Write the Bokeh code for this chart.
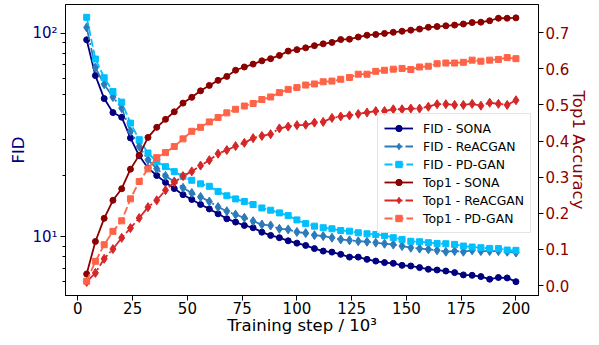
from bokeh.plotting import figure
from bokeh.models import (Range1d, LinearAxis, LinearScale, FixedTicker, PrintfTickFormatter,
                          Legend, LegendItem)
from bokeh.embed import file_html
from bokeh.resources import INLINE

steps = [4, 8, 12, 16, 20, 24, 28, 32, 36, 40,
         44, 48, 52, 56, 60, 64, 68, 72, 76, 80,
         84, 88, 92, 96, 100, 104, 108, 112, 116, 120,
         124, 128, 132, 136, 140, 144, 148, 152, 156, 160,
         164, 168, 172, 176, 180, 184, 188, 192, 196, 200]

fid_sona = [93, 62, 47.8, 40.8, 38.7, 30.6, 25.0, 21.8, 20.0, 18.5,
            17.25, 16.1, 15.24, 14.4, 13.7, 12.96, 12.25, 11.8, 11.36, 11.07,
            10.53, 10.15, 9.89, 9.55, 9.3, 9.06, 8.74, 8.5, 8.4, 8.19,
            7.94, 7.94, 7.74, 7.59, 7.46, 7.4, 7.23, 7.18, 7.05, 6.92,
            6.86, 6.78, 6.66, 6.49, 6.46, 6.37, 6.18, 6.3, 6.27, 6.01]

fid_reac = [107, 67.8, 56.2, 48.6, 42.9, 33.0, 27.8, 23.9, 21.6, 19.9,
            18.7, 17.4, 16.4, 15.7, 14.9, 14.0, 13.35, 12.85, 12.4, 11.93,
            11.48, 11.36, 10.94, 10.86, 10.55, 10.42, 10.18, 10.07, 9.89, 9.7,
            9.6, 9.5, 9.45, 9.35, 9.24, 9.15, 9.0, 8.83, 8.74, 8.67,
            8.57, 8.44, 8.5, 8.44, 8.57, 8.5, 8.5, 8.5, 8.44, 8.36]

fid_pd = [120, 74.8, 60.5, 51.8, 45.9, 36.2, 30.0, 25.8, 23.4, 22.1,
          20.9, 19.8, 18.95, 18.2, 17.7, 16.7, 15.9, 15.35, 14.9, 14.4,
          13.85, 13.5, 13.1, 12.7, 12.1, 11.6, 11.27, 11.07, 10.94, 10.73,
          10.65, 10.46, 10.34, 10.26, 10.15, 9.89, 9.7, 9.5, 9.45, 9.35,
          9.27, 9.24, 9.17, 9.0, 8.9, 8.83, 8.76, 8.74, 8.6, 8.57]

acc_sona = [0.032, 0.122, 0.186, 0.236, 0.268, 0.322, 0.361, 0.41, 0.438, 0.46,
            0.481, 0.505, 0.521, 0.539, 0.554, 0.568, 0.579, 0.596, 0.605, 0.613,
            0.622, 0.628, 0.637, 0.649, 0.653, 0.658, 0.664, 0.669, 0.673, 0.681,
            0.682, 0.688, 0.693, 0.695, 0.698, 0.701, 0.704, 0.707, 0.71, 0.715,
            0.717, 0.719, 0.721, 0.724, 0.728, 0.729, 0.733, 0.74, 0.74, 0.741]

acc_reac = [0.01, 0.035, 0.074, 0.101, 0.132, 0.159, 0.187, 0.217, 0.236, 0.264,
            0.286, 0.303, 0.316, 0.332, 0.347, 0.365, 0.375, 0.386, 0.395, 0.408,
            0.414, 0.419, 0.435, 0.44, 0.444, 0.445, 0.451, 0.453, 0.464, 0.468,
            0.471, 0.475, 0.479, 0.483, 0.483, 0.488, 0.488, 0.49, 0.49, 0.495,
            0.502, 0.502, 0.5, 0.5, 0.503, 0.498, 0.506, 0.503, 0.5, 0.513]

acc_pd = [0.012, 0.067, 0.113, 0.15, 0.179, 0.24, 0.288, 0.323, 0.354, 0.368,
          0.385, 0.406, 0.427, 0.438, 0.453, 0.465, 0.478, 0.488, 0.497, 0.504,
          0.515, 0.522, 0.534, 0.543, 0.548, 0.555, 0.558, 0.564, 0.566, 0.571,
          0.576, 0.585, 0.585, 0.593, 0.596, 0.599, 0.601, 0.598, 0.605, 0.607,
          0.614, 0.616, 0.616, 0.618, 0.624, 0.621, 0.624, 0.626, 0.631, 0.628]

x_ticks = [0, 25, 50, 75, 100, 125, 150, 175, 200]
fid_ticks = [10, 100]
fid_minor = [6, 7, 8, 9, 20, 30, 40, 50, 60, 70, 80, 90]
fid_labels = {10: "10\u00b9", 100: "10\u00b2"}
acc_ticks = [0.0, 0.1, 0.2, 0.3, 0.4, 0.5, 0.6, 0.7]

FONT = "DejaVu Sans"
FID_C = "navy"
ACC_C = "darkred"

p = figure(width=591, height=337, output_backend="svg", toolbar_location=None,
           title=None, y_axis_type="log",
           x_range=Range1d(-5.66, 210.3), y_range=Range1d(5.14, 138.7),
           min_border_left=65, min_border_right=10, min_border_top=4,
           min_border_bottom=0)
p.extra_y_ranges = {"acc": Range1d(-0.0276, 0.778)}
p.extra_y_scales = {"acc": LinearScale()}
p.grid.visible = False
p.outline_line_color = "black"
p.outline_line_width = 1
p.background_fill_color = "white"
p.border_fill_color = "white"

# bottom axis
xa = p.xaxis[0]
xa.ticker = FixedTicker(ticks=x_ticks)
xa.axis_label = "Training step / 10\u00b3"
xa.axis_label_text_font = FONT
xa.axis_label_text_font_style = "normal"
xa.axis_label_text_font_size = "16.5px"
xa.axis_label_text_color = "black"
xa.axis_label_standoff = -1
xa.major_label_text_font = FONT
xa.major_label_text_font_size = "15px"
xa.major_label_text_color = "black"
xa.major_label_standoff = 1
xa.major_tick_out = 5
xa.major_tick_in = 0
xa.minor_tick_out = 0
xa.minor_tick_in = 0
xa.axis_line_color = "black"

# left axis (FID, log)
ya = p.yaxis[0]
ya.ticker = FixedTicker(ticks=fid_ticks, minor_ticks=fid_minor)
ya.major_label_overrides = fid_labels
ya.axis_label = "FID"
ya.axis_label_text_font = FONT
ya.axis_label_text_font_style = "normal"
ya.axis_label_text_font_size = "16.5px"
ya.axis_label_text_color = FID_C
ya.axis_label_standoff = 1
ya.major_label_text_font = FONT
ya.major_label_text_font_size = "15px"
ya.major_label_text_color = FID_C
ya.major_label_standoff = 3
ya.major_tick_out = 5
ya.major_tick_in = 0
ya.minor_tick_out = 3
ya.minor_tick_in = 0
ya.axis_line_color = "black"

# right axis (Top1)
ra = LinearAxis(y_range_name="acc", ticker=FixedTicker(ticks=acc_ticks),
                formatter=PrintfTickFormatter(format="%.1f"))
ra.axis_label = "Top1 Accuracy"
ra.axis_label_text_font = FONT
ra.axis_label_text_font_style = "normal"
ra.axis_label_text_font_size = "16.5px"
ra.axis_label_text_color = ACC_C
ra.axis_label_standoff = -3
ra.major_label_text_font = FONT
ra.major_label_text_font_size = "15px"
ra.major_label_text_color = ACC_C
ra.major_label_standoff = 2
ra.major_tick_out = 5
ra.major_tick_in = 0
ra.minor_tick_out = 0
ra.minor_tick_in = 0
ra.axis_line_color = "black"
p.add_layout(ra, "right")

LW = 1.8
series = [
    ("FID - SONA", fid_sona, "default", "navy", "solid", "circle", 6),
    ("FID - ReACGAN", fid_reac, "default", "#2b7bba", "13 3 2 3", "diamond", 9),
    ("FID - PD-GAN", fid_pd, "default", "#00bfff", "8 3", "square", 6),
    ("Top1 - SONA", acc_sona, "acc", "darkred", "solid", "circle", 6),
    ("Top1 - ReACGAN", acc_reac, "acc", "#d62728", "13 3 2 3", "diamond", 9),
    ("Top1 - PD-GAN", acc_pd, "acc", "#ff6347", "8 3", "square", 6),
]

items = []
for name, ys, rng, col, dash, marker, size in series:
    kw = {} if rng == "default" else {"y_range_name": rng}
    l = p.line(steps, ys, line_color=col, line_width=LW, line_dash=dash, **kw)
    s = p.scatter(steps, ys, marker=marker, size=size,
                  fill_color=col, line_color=col, line_width=1, **kw)
    items.append(LegendItem(label=name, renderers=[l, s]))

legend = Legend(items=items, location=(312, 62))
legend.label_text_font = FONT
legend.label_text_font_size = "12.4px"
legend.label_text_color = "black"
legend.glyph_width = 29
legend.glyph_height = 16
legend.label_height = 16
legend.label_standoff = 10
legend.spacing = 2
legend.padding = 6
legend.margin = 0
legend.border_line_color = "#cccccc"
legend.border_line_width = 1
legend.background_fill_alpha = 0.8
p.add_layout(legend, "center")

open("out.html", "w").write(file_html(p, INLINE))
